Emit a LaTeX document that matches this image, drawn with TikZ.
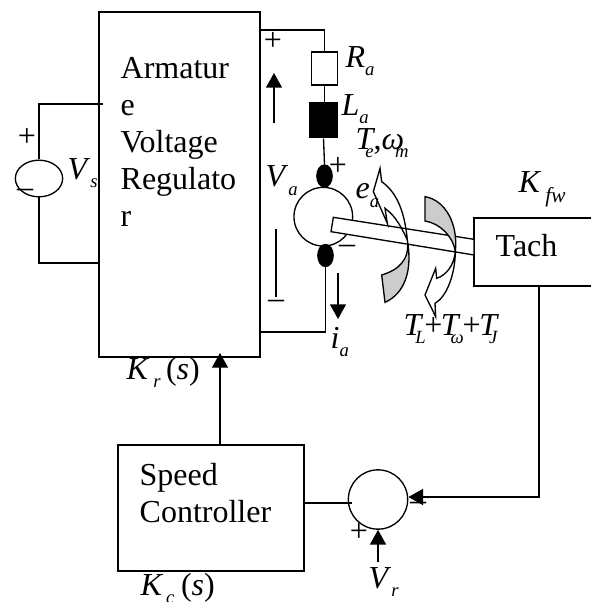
\documentclass[tikz,border=0pt]{standalone}
\usepackage{fontspec}
\setmainfont{Liberation Serif}
\usetikzlibrary{arrows.meta,positioning,calc,shapes.geometric}
\definecolor{crescentgray}{RGB}{204,204,204}
\newcommand{\subt}[1]{\raisebox{-6pt}{\fontsize{14}{14}\selectfont\textit{#1}}}
\newcommand{\symb}[2]{\textit{#1}\subt{#2}}
\begin{document}
\begin{tikzpicture}[x=0.75pt, y=-0.75pt, line width=1pt, font=\fontsize{24}{27.75}\selectfont,
      blockbox/.style={draw, rectangle, inner sep=0pt},
      blocktext/.style={inner sep=0pt, anchor=north west, align=left},
      sym/.style={inner sep=0pt, anchor=base west},
      sign/.style={inner sep=0pt},
      dot/.style={draw, fill=black, ellipse, minimum width=11.5pt, minimum height=16.5pt, inner sep=0pt},
      arr/.style={-{Triangle[length=11pt,width=12pt]}}
    ]
    \useasboundingbox (0,0) rectangle (590,602);

    \node[blockbox, minimum width=120.75pt, minimum height=258.75pt] (reg) at (179.5,184.5) {};
    \node[blocktext] (regtext) at (120,57) {Armatur\\e\\Voltage\\Regulato\\r};
    \node[blockbox, minimum width=97.5pt, minimum height=51pt] (tach) at (539,252) {};
    \node[blocktext] (tachtext) at (495,234) {Tach};
    \node[blockbox, minimum width=139.5pt, minimum height=94.5pt] (ctrl) at (211,508) {};
    \node[blocktext] (ctrltext) at (139,463) {Speed\\Controller};

    \node[blockbox, minimum width=19.5pt, minimum height=24.75pt] (ra) at (324.5,68.5) {};
    \node[blockbox, fill=black, minimum width=20.25pt, minimum height=26pt] (la) at (323.5,120.5) {};
    \node[dot] (dotup) at (324.5,176) {};
    \node[draw, circle, minimum size=44pt, inner sep=0pt] (motor) at (323.3,216.7) {};
    \node[dot] (dotdown) at (325.5,255.5) {};
    \node[draw, circle, minimum size=44.5pt, inner sep=0pt] (sum) at (378,499.5) {};
    \node[draw, ellipse, minimum width=35.5pt, minimum height=27.5pt, inner sep=0pt] (vs) at (39,178.5) {};

    \coordinate (wiretop) at (260,30);
    \coordinate (wirebot) at (260,332);
    \coordinate (vsup) at (103,104);
    \coordinate (vsdown) at (100,263);
    \coordinate (vaup) at (274,123);
    \coordinate (vaupend) at (274,73);
    \coordinate (iaup) at (338,273);
    \coordinate (iadown) at (338,319);
    \coordinate (vatail) at (276,229);
    \coordinate (vatailend) at (276,297);
    \coordinate (vrin) at (378,562);

    \draw (wiretop) -| (ra.north);
    \draw (ra.south) -- (ra.south |- la.north);
    \draw (la.south) -- (dotup.north);
    \draw (dotdown.south) |- (wirebot);
    \draw (vs.north) |- (vsup);
    \draw (vs.south) |- (vsdown);
    \draw (ctrl.east |- 0,503) -- ([xshift=3pt]sum.west |- 0,503);
    \draw[arr] (vaup) -- (vaupend);
    \draw[arr] (iaup) -- (iadown);
    \draw (vatail) -- (vatailend);
    \draw[arr] (ctrl.north -| 220,0) -- (220,353);
    \draw[arr] (vrin) -- (sum.south);
    \draw[arr] (tach.south) |- (sum.east |- 0,497);

    \begin{scope}[shift={(270,140)}, x=0.25pt, y=-0.25pt]
      \draw[fill=white] (190,232) -- (612,298) -- (612,345) -- (183,275) -- cycle;
      \draw (412,300) .. controls (385,240) and (365,220) .. (345,205)
         -- (352,250) -- (310,155) -- (330,85) -- (335,125)
         .. controls (385,160) and (405,225) .. (412,300);
      \draw[fill=crescentgray] (412,300) .. controls (428,390) and (405,460) .. (345,487)
         -- (335,405) .. controls (385,390) and (420,360) .. (412,300) -- cycle;
      \draw[fill=crescentgray] (465,170) .. controls (525,180) and (565,250) .. (556,335)
         .. controls (550,290) and (510,250) .. (465,243) -- cycle;
      \draw (556,335) .. controls (555,405) and (530,470) .. (495,490)
         -- (497,530) -- (465,465) -- (497,385) -- (500,415)
         .. controls (530,405) and (552,375) .. (556,335);
    \end{scope}

    \node[sym] (lra) at (345,68) {\symb{R}{a}};
    \node[sym] (lla) at (341,116) {\symb{L}{a}};
    \node[sym] (lte) at (355,150) {\textit{T}\kern-7.5pt\subt{e}\kern0pt,\textit{ω}\kern-6.75pt\subt{m}};
    \node[sym] (lea) at (355,199) {\symb{e}{a}};
    \node[sym] (lva) at (265,187) {\symb{V}{a}};
    \node[sym] (lvs) at (67,180) {\symb{V}{s}};
    \node[sym] (lkf) at (518,193) {\textit{K}\kern3pt\raisebox{-6.75pt}{\fontsize{16}{16}\selectfont\textit{fw}}};
    \node[sym] (lia) at (330,348) {\symb{i}{a}};
    \node[sym] (ltl) at (403,335) {\textit{T}\kern-6pt\subt{L}\kern-1pt+\kern-1.2pt\textit{T}\kern-7.5pt\subt{ω}\kern-0.75pt+\kern-1pt\textit{T}\kern-7.5pt\subt{J}};
    \node[sym] (lkr) at (126,379) {\textit{K}\kern3pt\subt{r}\kern4pt(\textit{s})};
    \node[sym] (lkc) at (140,595) {\textit{K}\kern2pt\subt{c}\kern5pt(\textit{s})};
    \node[sym] (lvr) at (368,588) {\symb{V}{r}};

    \node[sign] (s1) at (273,41) {+};
    \node[sign] (s2) at (276,304) {–};
    \node[sign] (s3) at (338,166) {+};
    \node[sign] (s4) at (347,249) {–};
    \node[sign] (s5) at (27,137) {+};
    \node[sign] (s6) at (25,193) {–};
    \node[sign] (s7) at (359,532) {+};
    \node[sign] (s8) at (418,506) {–};
  \end{tikzpicture}
\end{document}
